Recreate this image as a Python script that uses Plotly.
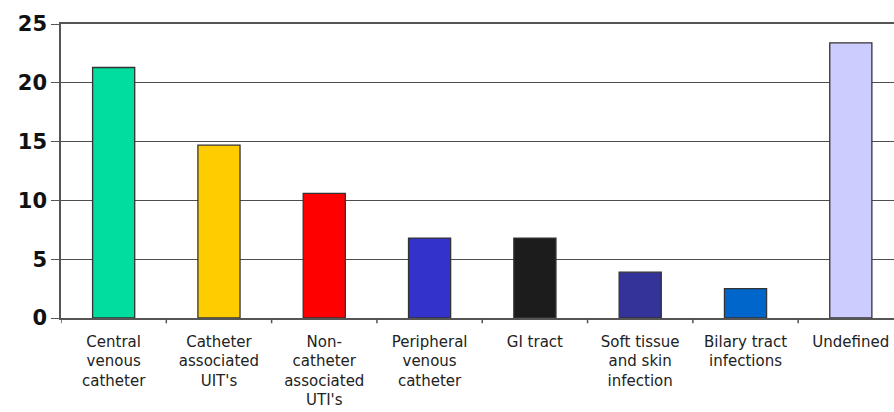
import plotly.graph_objects as go

categories = [
    "Central<br>venous<br>catheter",
    "Catheter<br>associated<br>UIT's",
    "Non-<br>catheter<br>associated<br>UTI's",
    "Peripheral<br>venous<br>catheter",
    "GI tract",
    "Soft tissue<br>and skin<br>infection",
    "Bilary tract<br>infections",
    "Undefined",
]
values = [21.3, 14.7, 10.6, 6.8, 6.8, 3.9, 2.5, 23.4]
colors = ["#00dd9e", "#ffcc00", "#ff0000", "#3333cc", "#1c1c1c", "#333399", "#0066cc", "#ccccff"]
y_ticks = [0, 5, 10, 15, 20, 25]

fig = go.Figure(go.Bar(
    x=list(range(len(categories))),
    y=values,
    marker=dict(color=colors, line=dict(color="#333333", width=1.3)),
    width=0.4,
))

fig.update_layout(
    width=894, height=412,
    margin=dict(l=61, r=0, t=24, b=94),
    paper_bgcolor="white", plot_bgcolor="white",
    showlegend=False,
    font=dict(family="DejaVu Sans", color="#222222"),
)
fig.update_xaxes(
    range=[-0.5, 7.41],
    tickmode="array",
    tickvals=list(range(len(categories))),
    ticktext=categories,
    tickfont=dict(size=15, color="#222222"),
    ticklabelstandoff=9,
    showline=True, linecolor="#555555", linewidth=1.5, mirror=True,
    showgrid=False, zeroline=False,
    ticks="", tickangle=0, automargin=False,
)
# boundary tick marks on the category axis
for i in range(8):
    fig.add_shape(type="line", xref="x", yref="paper", x0=i - 0.5, x1=i - 0.5, y0=0, y1=-0.018,
                  line=dict(color="#555555", width=1.5))
fig.update_yaxes(
    range=[0, 25],
    tickvals=y_ticks,
    tickfont=dict(size=21, color="#111111", family="DejaVu Sans", weight="bold"),
    showline=True, linecolor="#555555", linewidth=1.5,
    showgrid=True, gridcolor="#4d4d4d", gridwidth=1.3,
    zeroline=False, automargin=False,
    ticks="outside", ticklen=8, tickcolor="#555555", tickwidth=1.3,
)

fig.write_html(
    "out.html",
    config={"displayModeBar": False},
    post_script="document.body.style.margin='0';document.body.style.overflow='hidden';",
)
